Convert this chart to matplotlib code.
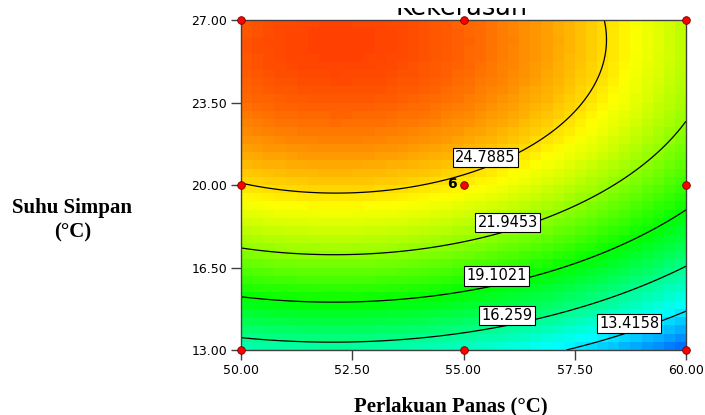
import numpy as np
import matplotlib.pyplot as plt
from matplotlib.colors import LinearSegmentedColormap
from matplotlib.patches import Rectangle

# koefisien model kuadratik (satuan terkode): b0, A, B, AB, A^2, B^2
koef = [24.43, -2.31, 6.03, 0.075, -2.02, -3.45]
panas_range = [50.0, 60.0]
suhu_range = [13.0, 27.0]

level_kontur = [13.4158, 16.259, 19.1021, 21.9453, 24.7885]
# letak kotak label tiap kontur
label_x = [58.72, 55.98, 55.75, 55.99, 55.49]
label_y = [14.12, 14.46, 16.14, 18.41, 21.17]

# titik rancangan
titik_panas = [50, 55, 60, 50, 55, 60, 50, 55, 60]
titik_suhu = [13, 13, 13, 20, 20, 20, 27, 27, 27]

xticks = [50, 52.5, 55, 57.5, 60]
yticks = [13, 16.5, 20, 23.5, 27]

# skala warna: biru - cyan - hijau - kuning - merah
nilai_warna = [8.7, 13.9, 19.1, 24.2, 28.9]
daftar_warna = ['#0000ff', '#00ffff', '#00ff00', '#ffff00', '#ff0000']


def kekerasan(x, y):
    a = (x - np.mean(panas_range)) / (np.diff(panas_range)[0] / 2)
    b = (y - np.mean(suhu_range)) / (np.diff(suhu_range)[0] / 2)
    return (koef[0] + koef[1]*a + koef[2]*b + koef[3]*a*b
            + koef[4]*a**2 + koef[5]*b**2)


vmin, vmax = nilai_warna[0], nilai_warna[-1]
warna = LinearSegmentedColormap.from_list(
    'de', [((v - vmin) / (vmax - vmin), c) for v, c in zip(nilai_warna, daftar_warna)])

fig = plt.figure(figsize=(7.05, 4.15), dpi=100)
ax = fig.add_axes([241/705, 65/415, 445/705, 330/415])

# peta warna kasar (kotak-kotak)
xe = np.linspace(*panas_range, 41)
ye = np.linspace(*suhu_range, 41)
xc = (xe[:-1] + xe[1:]) / 2
yc = (ye[:-1] + ye[1:]) / 2
XC, YC = np.meshgrid(xc, yc)
ax.pcolormesh(xe, ye, kekerasan(XC, YC), cmap=warna, vmin=vmin, vmax=vmax,
              shading='flat')

ax.set_xlim(panas_range)
ax.set_ylim(suhu_range)

# garis kontur
xf = np.linspace(*panas_range, 300)
yf = np.linspace(*suhu_range, 300)
XF, YF = np.meshgrid(xf, yf)
ax.contour(XF, YF, kekerasan(XF, YF), levels=level_kontur,
           colors='black', linewidths=0.9)
for v, lx, ly in zip(level_kontur, label_x, label_y):
    ax.text(lx, ly, f"{v:g}", ha='center', va='center', fontsize=10.5, zorder=6,
            bbox=dict(boxstyle='square,pad=0.15', fc='white', ec='black', lw=0.8))

ax.plot(titik_panas, titik_suhu, 'o', color='red', mec='#700000', mew=0.6,
        ms=5.5, clip_on=False, zorder=7)
ax.annotate('6', xy=(55, 20), xytext=(-4.5, 1), textcoords='offset points',
            ha='right', va='center', fontsize=10, fontweight='bold')

ax.set_xticks(xticks)
ax.set_yticks(yticks)
ax.set_xticklabels([f"{v:.2f}" for v in xticks])
ax.set_yticklabels([f"{v:.2f}" for v in yticks])
ax.tick_params(direction='out', length=7, width=1, color='#404040',
               labelsize=9, pad=3)
for s in ax.spines.values():
    s.set_color('#404040')
    s.set_linewidth(1)

serif = dict(family='Liberation Serif', fontweight='bold', fontsize=15)
fig.text(451/705, 1 - 411/415, 'Perlakuan Panas (°C)', ha='center',
         va='baseline', **serif)
fig.text(72/705, 1 - 213/415, 'Suhu Simpan', ha='center', va='baseline', **serif)
fig.text(73/705, 1 - 237/415, '(°C)', ha='center', va='baseline', **serif)

fig.text(462/705, 1 - 15/415, 'Kekerasan', ha='center', va='baseline',
         fontsize=18.4)
fig.patches.append(Rectangle((0, 1 - 8/415), 1, 8/415, transform=fig.transFigure,
                             fc='white', ec='none', zorder=20))

fig.savefig('out.png', dpi=100)
